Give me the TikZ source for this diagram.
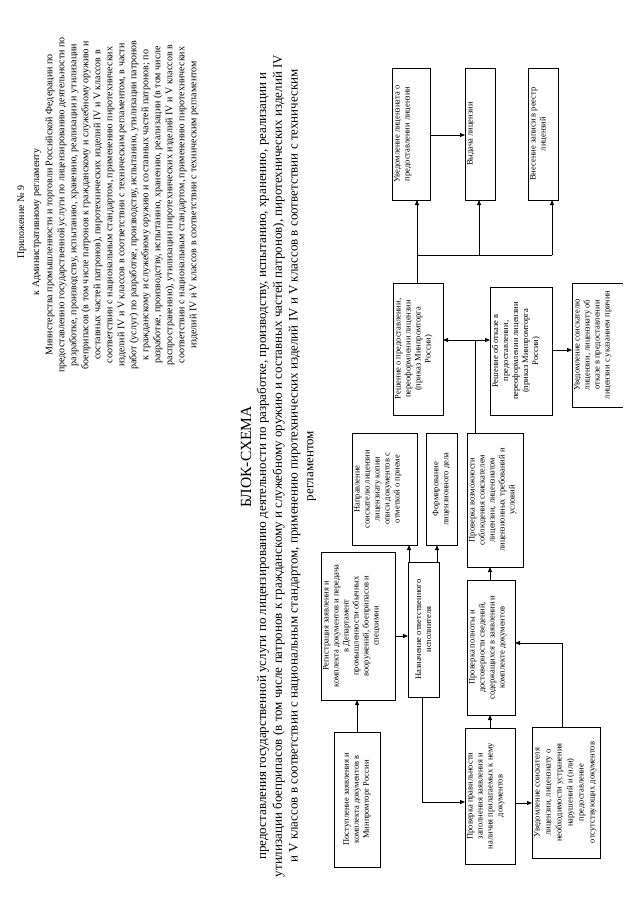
\documentclass[tikz,border=0pt]{standalone}
\usepackage{fontspec}
\setmainfont{Liberation Serif}
\usetikzlibrary{arrows.meta}
\newcommand\bxt[3]{\rotatebox{90}{\begin{minipage}[c][#2pt][t]{#1pt}\centering\vspace*{2pt}\fontsize{8.5}{10}\selectfont #3\par\end{minipage}}}
\newcommand\bxc[3]{\rotatebox{90}{\begin{minipage}[c][#2pt][c]{#1pt}\centering\fontsize{8.5}{10}\selectfont #3\par\end{minipage}}}
\begin{document}
\begin{tikzpicture}[x=1pt,y=1pt,
  box/.style={draw, line width=1pt, inner sep=0pt, outer sep=0pt},
  nobox/.style={inner sep=0pt, outer sep=0pt},
  boxline/.style={line width=1pt},
  arr/.style={-{Triangle[length=5pt,width=4pt]}, line width=0.9pt},
  ln/.style={line width=0.9pt}]
\useasboundingbox (0,0) rectangle (640,-905);

% header
\node[rotate=90, align=center, font=\fontsize{10}{15}\selectfont] (hdr) at (29.5,-222)
  {Приложение № 9\\к Административному регламенту};
\node[rotate=90, align=center, font=\fontsize{10}{12}\selectfont] (hbody) at (122,-205)
  {Министерства промышленности и торговли Российской Федерации по\\
   предоставлению государственной услуги по лицензированию деятельности по\\
   разработке, производству, испытанию, хранению, реализации и утилизации\\
   боеприпасов (в том числе патронов к гражданскому и служебному оружию и\\
   составных частей патронов), пиротехнических изделий IV и V классов в\\
   соответствии с национальным стандартом, применению пиротехнических\\
   изделий IV и V классов в соответствии с техническим регламентом, в части\\
   работ (услуг) по разработке, производству, испытанию, утилизации патронов\\
   к гражданскому и служебному оружию и составных частей патронов; по\\
   разработке, производству, испытанию, хранению, реализации (в том числе\\
   распространению), утилизации пиротехнических изделий IV и V классов в\\
   соответствии с национальным стандартом, применению пиротехнических\\
   изделий IV и V классов в соответствии с техническим регламентом};

\node[rotate=90, font=\fontsize{15.5}{17}\selectfont] (title) at (246,-457) {БЛОК-СХЕМА};
\node[rotate=90, align=center, font=\fontsize{13}{15.7}\selectfont] (sub) at (286.5,-466)
  {предоставления государственной услуги по лицензированию деятельности по разработке, производству, испытанию, хранению, реализации и\\
   утилизации боеприпасов (в том числе патронов к гражданскому и служебному оружию и составных частей патронов), пиротехнических изделий IV\\
   и V классов в соответствии с национальным стандартом, применению пиротехнических изделий IV и V классов в соответствии с техническим\\
   регламентом};

% boxes
\node[box] (A) at (357,-799.5) {\bxc{135}{46}{Поступление заявления и\\комплекта документов в\\Минпромторг России}};
\node[box] (B) at (358,-626) {\bxt{148}{74}{Регистрация заявления и\\комплекта документов и передача\\в Департамент\\промышленности обычных\\вооружений, боеприпасов и\\спецхимии}};
\node[box] (C) at (423.5,-629.5) {\bxc{135}{31}{Назначение ответственного\\исполнителя}};
\node[box] (D) at (384.5,-489) {\bxt{112}{65}{Направление\\соискателю лицензии\\лицензиату копии\\описи документов с\\отметкой о приеме}};
\node[box] (E) at (441.5,-489) {\bxc{112}{31}{Формирование\\лицензионного дела}};
\node[box] (F) at (490,-796) {\bxt{136}{50}{Проверка правильности\\заполнения заявления и\\наличия прилагаемых к нему\\документов}};
\node[box] (G) at (491,-647.5) {\bxt{135}{48}{Проверка полноты и\\достоверности сведений,\\содержащихся в заявлении и\\комплекте документов}};
\node[box] (H) at (495,-500) {\bxt{134}{56}{Проверка возможности\\соблюдения соискателем\\лицензии, лицензиатом\\лицензионных требований и\\условий}};
\node[box] (I) at (566,-792.5) {\bxt{131}{68}{\fontsize{8.5}{11}\selectfont Уведомление соискателя\\лицензии, лицензиату о\\необходимости устранения\\нарушений и (или)\\предоставление\\отсутствующих документов}};
\node[box] (J) at (411,-134) {\bxt{132}{38}{Уведомление лицензиата о\\предоставлении лицензии}};
\node[box] (K) at (480,-134) {\bxt{132}{30}{Выдача лицензии}};
\node[box] (L) at (543,-134) {\bxt{132}{30}{Внесение записи в реестр\\лицензий}};
\node[box] (M) at (418,-349) {\bxt{132}{50}{Решение о предоставлении,\\переоформлении лицензии\\(приказ Минпромторга\\России)}};
\node[box] (N) at (521,-351) {\bxt{128}{62}{Решение об отказе в\\предоставлении,\\переоформлении лицензии\\(приказ Минпромторга\\России)}};
\node[nobox] (O) at (597.5,-345) {\bxt{124}{51}{Уведомление соискателю\\лицензии, лицензиату об\\отказе в предоставлении\\лицензии с указанием причин}};
\draw[boxline] (O.north east) -- (O.north west) -- (O.south west) -- (O.south east);

% connectors
\coordinate (cf) at (422,-802);
\coordinate (ig) at (562,-643);
\coordinate (hub) at (475,-340);
\coordinate (bus1) at (417,-255);
\coordinate (bus2) at (479,-255);
\coordinate (bus3) at (552,-255);

\draw[arr] (A.north) -- (A.north |- B.south);
\draw[arr] (B.east |- 0,-636) -- (C.west |- 0,-636);
\draw[arr] (C.north -| 409,0) -- (D.south -| 409,0);
\draw[arr] (C.north -| 437,0) -- (E.south -| 437,0);
\draw[arr] (C.south -| cf) |- (F.west |- cf);
\draw[arr] (F.north) -- (F.north |- G.south);
\draw[arr] (G.north -| 490,0) -- (H.south -| 490,0);
\draw[arr] (F.east |- 0,-803) -- (I.west |- 0,-803);
\draw[arr] (I.north -| ig) |- (G.east |- ig);
\draw[ln] (H.north -| hub) -- (hub);
\draw[arr] (hub) -- (M.east |- hub);
\draw[arr] (hub) -- (N.west |- hub);
\draw[arr] (N.east |- 0,-350) -- (O.west |- 0,-350);
\draw[ln] (M.north -| bus1) -- (bus1) -- (bus3);
\draw[arr] (bus1) -- (J.south -| bus1);
\draw[arr] (bus2) -- (K.south -| bus2);
\draw[arr] (bus3) -- (L.south -| bus3);
\draw[arr] (J.east |- 0,-135) -- (K.west |- 0,-135);
\end{tikzpicture}
\end{document}
